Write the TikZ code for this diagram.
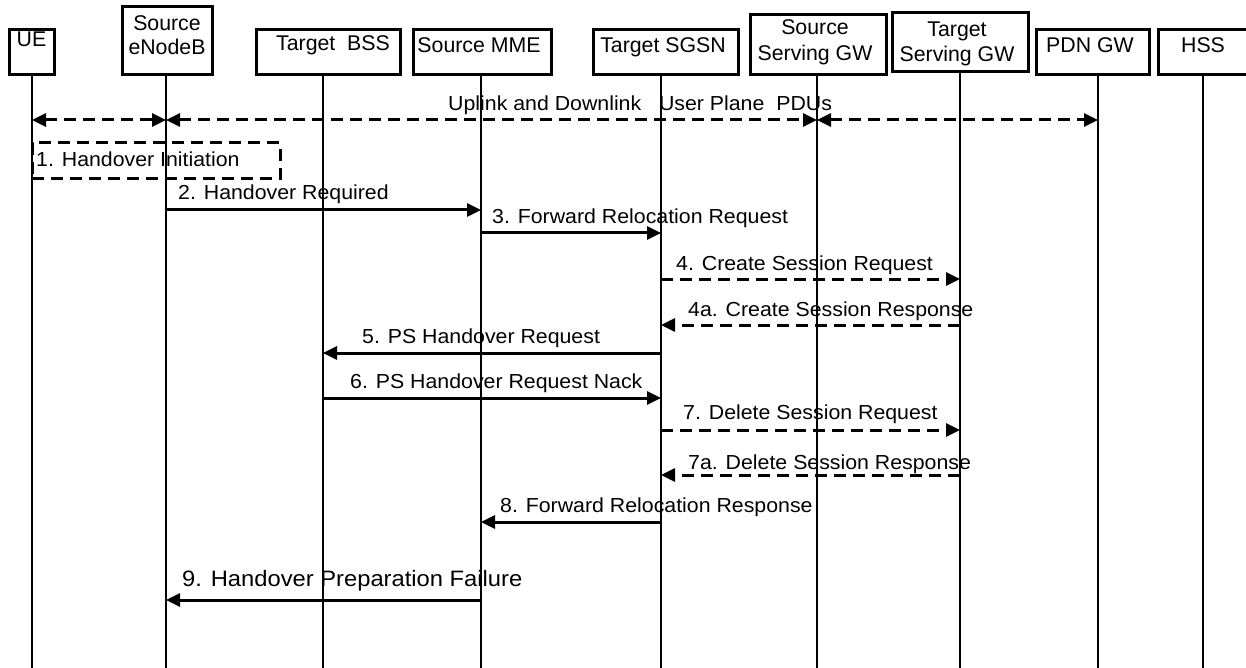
\documentclass[tikz,border=0pt]{standalone}
\usepackage{fontspec}
\setmainfont{Liberation Sans}
\newfontfamily\msgfont[FakeStretch=1.05]{Liberation Sans}
\newfontfamily\bigmsgfont[FakeStretch=1.065]{Liberation Sans}
\usetikzlibrary{arrows.meta}
\begin{document}
\begin{tikzpicture}[x=1pt,y=-1pt,
  box/.style={draw, line width=3pt, inner sep=0pt},
  lbl/.style={inner sep=0pt, font=\fontsize{21.3}{25}\selectfont, anchor=base},
  mlbl/.style={inner sep=0pt, font=\msgfont\fontsize{20.3}{24}\selectfont, anchor=base west},
  biglbl/.style={inner sep=0pt, font=\bigmsgfont\fontsize{22.3}{26}\selectfont, anchor=base west},
  life/.style={line width=2.4pt},
  tip/.style={-{Triangle[length=14pt,width=13pt]}},
  msg/.style={line width=3pt, tip},
  dmsg/.style={line width=3pt, tip, dash pattern=on 12pt off 7pt},
  pdu/.style={line width=3pt, dash pattern=on 12pt off 7pt, {Triangle[length=14pt,width=13pt]}-{Triangle[length=14pt,width=13pt]}}
]
\useasboundingbox (0,0) rectangle (1246,668);
\fill[white] (0,0) rectangle (1246,668);
\clip (0,0) rectangle (1246,668);

% lifeline x positions
\coordinate (xUE) at (32,0);
\coordinate (xENB) at (166,0);
\coordinate (xBSS) at (323,0);
\coordinate (xMME) at (481,0);
\coordinate (xSGSN) at (661,0);
\coordinate (xSSGW) at (817,0);
\coordinate (xTSGW) at (960,0);
\coordinate (xPDN) at (1098,0);
\coordinate (xHSS) at (1203,0);

% boxes
\node[box, minimum width=45pt, minimum height=45pt] (ue) at (31.5,52.5) {};
\node[box, minimum width=90pt, minimum height=68pt] (enb) at (167,41) {};
\node[box, minimum width=144pt, minimum height=45pt] (bss) at (328,52.5) {};
\node[box, minimum width=138pt, minimum height=45pt] (mme) at (482,52.5) {};
\node[box, minimum width=145pt, minimum height=45pt] (sgsn) at (665.5,52.5) {};
\node[box, minimum width=136pt, minimum height=60pt] (ssgw) at (818,45) {};
\node[box, minimum width=136pt, minimum height=59pt] (tsgw) at (960,42.5) {};
\node[box, minimum width=113pt, minimum height=45pt] (pdn) at (1092.5,52.5) {};
\node[box, minimum width=100pt, minimum height=45pt] (hss) at (1208,52.5) {};

% box labels
\node[lbl] (ueT) at (31.5,47) {UE};
\node[lbl] (enbT1) at (167,31) {Source};
\node[lbl] (enbT2) at (167,55) {eNodeB};
\node[lbl] (bssT) at (333,51) {Target\ \ BSS};
\node[lbl] (mmeT) at (479,53) {Source MME};
\node[lbl] (sgsnT) at (663,53) {Target SGSN};
\node[lbl] (ssgwT1) at (815,35) {Source};
\node[lbl] (ssgwT2) at (815,61) {Serving GW};
\node[lbl] (tsgwT1) at (957,37) {Target};
\node[lbl] (tsgwT2) at (957,62) {Serving GW};
\node[lbl] (pdnT) at (1090,53) {PDN GW};
\node[lbl] (hssT) at (1203,53) {HSS};

% lifelines
\draw[life] (xUE |- ue.south) -- (xUE |- 0,668);
\draw[life] (xENB |- enb.south) -- (xENB |- 0,668);
\draw[life] (xBSS |- bss.south) -- (xBSS |- 0,668);
\draw[life] (xMME |- mme.south) -- (xMME |- 0,668);
\draw[life] (xSGSN |- sgsn.south) -- (xSGSN |- 0,668);
\draw[life] (xSSGW |- ssgw.south) -- (xSSGW |- 0,668);
\draw[life] (xTSGW |- tsgw.south) -- (xTSGW |- 0,668);
\draw[life] (xPDN |- pdn.south) -- (xPDN |- 0,668);
\draw[life] (xHSS |- hss.south) -- (xHSS |- 0,668);

% user plane
\draw[pdu] (xUE |- 0,120) -- (xENB |- 0,120);
\draw[pdu] (xENB |- 0,120) -- (xSSGW |- 0,120);
\draw[pdu] (xSSGW |- 0,120) -- (xPDN |- 0,120);
\node[mlbl] (pduT) at (448,111) {Uplink and Downlink\ \ \ User Plane\ \ PDUs};

% 1. handover initiation
\node[box, dash pattern=on 12pt off 7pt, minimum width=248pt, minimum height=36pt] (hoinit) at (156,161) {};
\node[mlbl] (hoinitT) at (36,167) {1. Handover Initiation};

% messages
\draw[msg] (xENB |- 0,210) -- (xMME |- 0,210);
\node[mlbl] (m2) at (178,200) {2. Handover Required};

\draw[msg] (xMME |- 0,233) -- (xSGSN |- 0,233);
\node[mlbl] (m3) at (492,223) {3. Forward Relocation Request};

\draw[dmsg] (xSGSN |- 0,279) -- (xTSGW |- 0,279);
\node[mlbl] (m4) at (676,270) {4. Create Session Request};

\draw[dmsg] (xTSGW |- 0,325) -- (xSGSN |- 0,325);
\node[mlbl] (m4a) at (688,316) {4a. Create Session Response};

\draw[msg] (xSGSN |- 0,353) -- (xBSS |- 0,353);
\node[mlbl] (m5) at (362,343) {5. PS Handover Request};

\draw[msg] (xBSS |- 0,398) -- (xSGSN |- 0,398);
\node[mlbl] (m6) at (350,388) {6. PS Handover Request Nack};

\draw[dmsg] (xSGSN |- 0,430) -- (xTSGW |- 0,430);
\node[mlbl] (m7) at (683,419) {7. Delete Session Request};

\draw[dmsg] (xTSGW |- 0,475) -- (xSGSN |- 0,475);
\node[mlbl] (m7a) at (688,469) {7a. Delete Session Response};

\draw[msg] (xSGSN |- 0,522) -- (xMME |- 0,522);
\node[mlbl] (m8) at (500,512) {8. Forward Relocation Response};

\draw[msg] (xMME |- 0,600) -- (xENB |- 0,600);
\node[biglbl] (m9) at (182,586) {9. Handover Preparation Failure};
\end{tikzpicture}
\end{document}
